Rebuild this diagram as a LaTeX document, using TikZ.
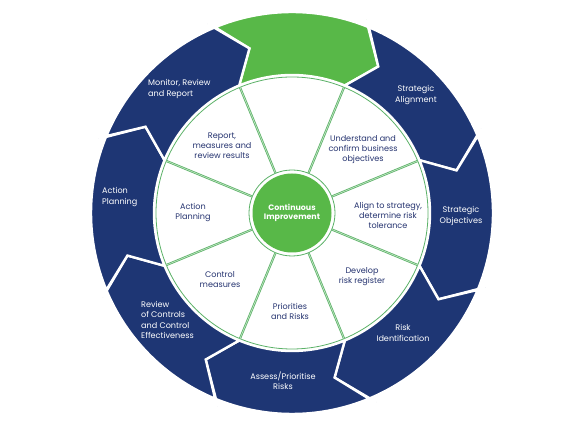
\documentclass[tikz,border=0pt]{standalone}
\usepackage{fontspec}
\setmainfont{Poppins}
\definecolor{navy}{RGB}{30,54,116}
\definecolor{agreen}{RGB}{88,184,72}
\definecolor{lgreen}{RGB}{92,178,104}
\definecolor{pgreen}{RGB}{190,228,192}
\definecolor{tnavy}{RGB}{38,52,112}
\tikzset{
  seg/.style={draw=white, line width=2.4pt, line join=miter, miter limit=20},
  spoke/.style={draw=lgreen, line width=0.75pt, double=pgreen, double distance=0.7pt},
  intext/.style={text=tnavy, align=center, font=\fontsize{8.1}{10}\selectfont, inner sep=0pt},
  outtext/.style={text=white, align=center, font=\fontsize{8.1}{10.4}\selectfont, inner sep=0pt},
  outleft/.style={outtext, align=left, anchor=west},
}
\newcommand\ringarrow[2]{%
  \pgfmathsetmacro\ta{#2+22.5}%
  \pgfmathsetmacro\hb{#2-22.5}%
  \pgfmathsetmacro\hs{#2-22.5+1.5}%
  \pgfmathsetmacro\tn{#2+22.5-8}%
  \pgfmathsetmacro\hn{#2-22.5-8}%
  \filldraw[seg, fill=#1] (\ta:201) arc[start angle=\ta, end angle=\hb, radius=201]
    -- (\hs:207) -- (\hn:170) -- (\hb:138)
    arc[start angle=\hb, end angle=\ta, radius=138] -- (\tn:170) -- cycle;
}
\begin{document}
\begin{tikzpicture}[x=1pt,y=1pt]
\useasboundingbox (0,0) rectangle (580,430);
\fill[white] (0,0) rectangle (580,430);
\begin{scope}[shift={(292,217)}]
  \ringarrow{agreen}{90}
  \foreach \a in {45,0,-45,-90,-135,180,135} {\ringarrow{navy}{\a}}
  \filldraw[fill=white, draw=lgreen, line width=0.8pt] (0,0) circle (136);
  \foreach \a in {22.5,67.5,...,337.5} {\draw[spoke] (\a:43) -- (\a:136);}
  \filldraw[fill=white, draw=lgreen, line width=0.8pt] (0,0) circle (43);
  \fill[agreen] (0,0) circle (39.5);
\end{scope}
\node[text=white, align=center, font=\bfseries\fontsize{7.9}{9.6}\selectfont, inner sep=0pt] (ci) at (292,217) {Continuous\\Improvement};
% inner texts
\node[intext] (t1) at (222,284) {Report,\\measures and\\review results};
\node[intext] (t2) at (363,280) {Understand and\\confirm business\\objectives};
\node[intext] (t3) at (193,217) {Action\\Planning};
\node[intext] (t4) at (388,215) {Align to strategy,\\determine risk\\tolerance};
\node[intext] (t5) at (220,150) {Control\\measures};
\node[intext] (t6) at (362,153) {Develop\\risk register};
\node[intext] (t7) at (290,119) {Priorities\\and Risks};
% outer texts
\node[outleft] (o1) at (148,341) {Monitor, Review\\and Report};
\node[outtext] (o2) at (416,335) {Strategic\\Alignment};
\node[outleft] (o3) at (102,233) {Action\\Planning};
\node[outtext] (o4) at (461,214) {Strategic\\Objectives};
\node[outleft] (o5) at (141,110) {Review\\of Controls\\and Control\\Effectiveness};
\node[outtext] (o6) at (403,97) {Risk\\Identification};
\node[outtext] (o7) at (283,49) {Assess/Prioritise\\Risks};
\end{tikzpicture}
\end{document}
